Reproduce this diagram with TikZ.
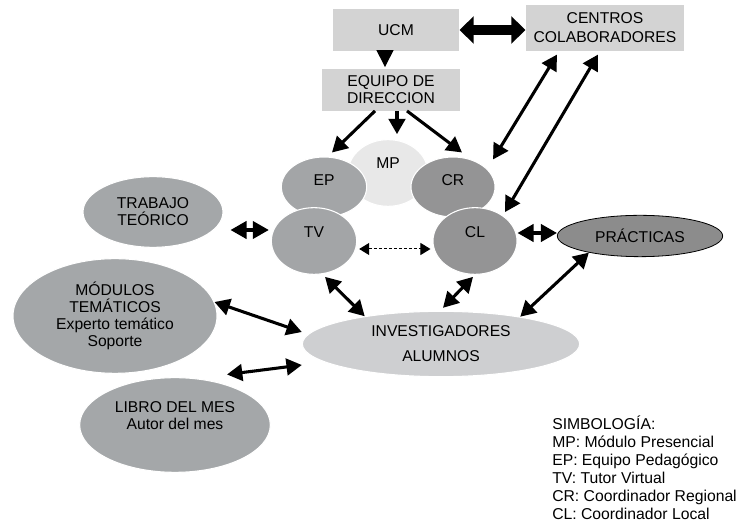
\documentclass[tikz,border=0pt]{standalone}
\usepackage{fontspec}
\setmainfont{Liberation Sans}
\usetikzlibrary{arrows.meta,shapes.geometric,positioning}
\definecolor{box-gray}{RGB}{211,211,211}
\definecolor{mp-gray}{RGB}{232,232,232}
\definecolor{ep-gray}{RGB}{163,165,167}
\definecolor{cr-gray}{RGB}{148,148,149}
\definecolor{side-gray}{RGB}{164,167,169}
\definecolor{inv-gray}{RGB}{206,207,209}
\definecolor{prac-gray}{RGB}{140,140,140}
\tikzset{
    box/.style={rectangle, fill=box-gray, inner sep=0pt, align=center},
    blob/.style={ellipse, draw=white, line width=0.8pt, inner sep=0pt, align=center},
    arr/.style={line width=2.3pt, -{Triangle[length=11.5pt,width=12.5pt]}},
    biarr/.style={line width=2.3pt, {Triangle[length=11.5pt,width=12.5pt]}-{Triangle[length=11.5pt,width=12.5pt]}},
    shortbi/.style={line width=2.3pt, {Triangle[length=12pt,width=13pt]}-{Triangle[length=12pt,width=13pt]}},
    dashbi/.style={line width=0.75pt, dash pattern=on 2.25pt off 1.5pt,
        {Triangle[length=7.5pt,width=9pt]}-{Triangle[length=7.5pt,width=9pt]}, shorten <=1.5pt, shorten >=1.5pt}
}

\begin{document}
\begin{tikzpicture}[x=0.75pt, y=-0.75pt, font=\fontsize{11.75}{12.75}\selectfont]
    \useasboundingbox (0,0) rectangle (740,523);

    % top boxes
    \node[box, minimum width=95pt, minimum height=31pt] (ucm) at (396,30) {UCM};
    \node[box, minimum width=119pt, minimum height=35pt] (centros) at (605,28) {CENTROS\\[1.5pt]COLABORADORES};
    \node[box, minimum width=103pt, minimum height=31pt] (equipo) at (391,90) {EQUIPO DE\\DIRECCION};

    % central group
    \node[blob, fill=mp-gray, minimum width=60pt, minimum height=50pt,
        label={[yshift=7.5pt]center:MP}] (mp) at (388,173) {};
    \node[blob, fill=ep-gray, minimum width=64pt, minimum height=45pt,
        label={[yshift=5pt]center:EP}] (ep) at (324,187) {};
    \node[blob, fill=cr-gray, minimum width=63pt, minimum height=45pt,
        label={[yshift=5pt]center:CR}] (cr) at (453,187) {};
    \node[blob, fill=ep-gray, minimum width=64pt, minimum height=50pt,
        label={[yshift=6.75pt]center:TV}] (tv) at (314,241) {};
    \node[blob, fill=cr-gray, minimum width=63pt, minimum height=50pt,
        label={[yshift=6.75pt]center:CL}] (cl) at (475,241) {};

    % outer nodes
    \node[blob, fill=side-gray, minimum width=105pt, minimum height=53pt] (trabajo) at (153,212) {TRABAJO\\TEÓRICO};
    \node[blob, fill=side-gray, minimum width=153pt, minimum height=86pt] (modulos) at (115,316)
        {MÓDULOS\\TEMÁTICOS\\Experto temático\\Soporte};
    \node[blob, fill=side-gray, minimum width=143pt, minimum height=71pt,
        label={[yshift=7pt, align=center]center:LIBRO DEL MES\\Autor del mes}] (libro) at (175,425) {};
    \node[blob, fill=inv-gray, minimum width=208pt, minimum height=49pt] (invest) at (441,344)
        {INVESTIGADORES\\[6pt]ALUMNOS};
    \node[ellipse, draw=black, line width=0.6pt, fill=prac-gray, inner sep=0pt,
        minimum width=124pt, minimum height=31pt] (prac) at (640,236) {PRÁCTICAS};

    % legend
    \node[anchor=north west, align=left, inner sep=0pt, font=\fontsize{11.8}{13.5}\selectfont] (legend) at (552,416)
        {SIMBOLOGÍA:\\MP: Módulo Presencial\\EP: Equipo Pedagógico\\TV: Tutor Virtual\\CR: Coordinador Regional\\CL: Coordinador Local};

    % connectors
    \draw[line width=7.5pt, {Triangle[length=10.5pt,width=20pt]}-{Triangle[length=10.5pt,width=20pt]}]
        (ucm.east) -- (ucm.east -| centros.west);
    \draw[line width=1pt, -{Triangle[length=12.75pt,width=12.75pt]}, shorten >=1.5pt]
        ([xshift=-8.25pt]ucm.south) -- ([xshift=-8.25pt]ucm.south |- equipo.north);
    \draw[arr] ([xshift=-12pt]equipo.south) -- ([xshift=6pt,yshift=3pt]ep.north);
    \draw[arr, shorten >=3.75pt] ([xshift=4.5pt]equipo.south) -- ([xshift=4.5pt]equipo.south |- mp.north);
    \draw[arr] ([xshift=12pt]equipo.south) -- ([xshift=6.75pt,yshift=3pt]cr.north);
    \draw[biarr] ([xshift=-36pt,yshift=-2.25pt]centros.south) -- ([xshift=7.5pt,yshift=4.5pt]cr.north east);
    \draw[biarr] ([xshift=-5.25pt,yshift=-2.25pt]centros.south) -- ([yshift=3.75pt]cl.north east);
    \draw[shortbi] ([xshift=5.25pt,yshift=-13.5pt]trabajo.east) -- ([xshift=-1.5pt,yshift=8.25pt]tv.west);
    \draw[shortbi] ([yshift=6pt]cl.east) -- ([yshift=6pt]cl.east -| prac.west);
    \draw[dashbi] ([yshift=-6pt]tv.east) -- ([yshift=-6pt]cl.west);
    \draw[biarr] ([xshift=8.25pt,yshift=-1.5pt]tv.south) -- (invest.160);
    \draw[biarr] ([xshift=-1.5pt,yshift=-1.5pt]cl.south) -- ([xshift=1.5pt,yshift=2.25pt]invest.north);
    \draw[biarr] (prac.198) -- (invest.19);
    \draw[biarr] (modulos.8) -- ([yshift=9pt]invest.west);
    \draw[biarr] ([xshift=6pt,yshift=6pt]libro.44) -- ([yshift=-15.75pt]invest.west);
\end{tikzpicture}
\end{document}
